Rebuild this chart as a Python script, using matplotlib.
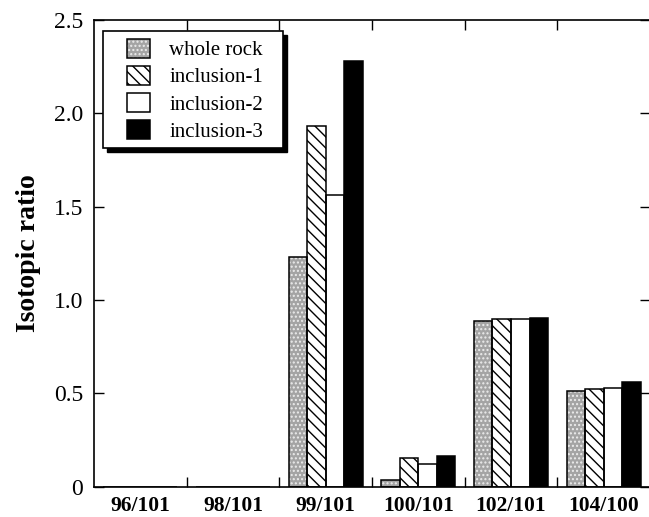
import matplotlib
matplotlib.use('Agg')
import matplotlib.pyplot as plt
from matplotlib.patches import Rectangle
import numpy as np

# Данные
ratios = ['96/101', '98/101', '99/101', '100/101', '102/101', '104/100']
whole_rock = [0, 0, 1.23, 0.035, 0.887, 0.513]
inclusion_1 = [0, 0, 1.93, 0.155, 0.900, 0.525]
inclusion_2 = [0, 0, 1.565, 0.12, 0.898, 0.530]
inclusion_3 = [0, 0, 2.28, 0.165, 0.905, 0.562]
series_names = ['whole rock', 'inclusion-1', 'inclusion-2', 'inclusion-3']
y_ticks = [0, 0.5, 1.0, 1.5, 2.0, 2.5]
y_tick_labels = ['0', '0.5', '1.0', '1.5', '2.0', '2.5']

plt.rcParams['font.family'] = ['Liberation Serif', 'DejaVu Serif']
plt.rcParams['hatch.linewidth'] = 1.0

W, H = 649, 517
fig = plt.figure(figsize=(W / 100, H / 100), dpi=100)
left, right, top, bottom = 94, 650, 20, 486.7
ax = fig.add_axes([left / W, (H - bottom) / H, (right - left) / W, (bottom - top) / H])

# стиль каждой серии: заливка, штриховка, цвет штриховки
styles = [
    ('#a4a4a4', '....', '#ececec'),
    ('white', '\\\\\\', 'black'),
    ('white', None, 'black'),
    ('black', None, 'black'),
]

x = np.arange(len(ratios))
w = 0.2
handles = []
for i, vals in enumerate([whole_rock, inclusion_1, inclusion_2, inclusion_3]):
    face, hatch, hcol = styles[i]
    pos = x + (i - 1.5) * w
    b1 = ax.bar(pos, vals, w, color=face, edgecolor=hcol, hatch=hatch, linewidth=0, zorder=2)
    b2 = ax.bar(pos, vals, w, fill=False, edgecolor='black', linewidth=1.1, zorder=2.1)
    handles.append((b1[0], b2[0]))

ax.set_xlim(-0.5, len(ratios) - 0.5)
ax.set_ylim(0, 2.5)

ax.set_yticks(y_ticks)
ax.set_yticklabels(y_tick_labels)
ax.set_xticks(x[:-1] + 0.5)
ax.set_xticklabels([])
ax.set_xticks(x, minor=True)
ax.set_xticklabels(ratios, minor=True, fontweight='bold', fontsize=15.5)

ax.tick_params(axis='y', which='major', direction='in', length=7.5, width=1.0,
               labelsize=17, pad=8, right=True)
ax.tick_params(axis='x', which='major', direction='in', length=7.5, width=1.0, top=True)
ax.tick_params(axis='x', which='minor', length=0, pad=7)

for s in ax.spines.values():
    s.set_linewidth(1.2)

ax.set_ylabel('Isotopic ratio', fontsize=20, fontweight='bold', labelpad=9)

# рамка легенды с тенью
aw, ah = right - left, bottom - top
bx0, by0 = (103 - left) / aw, (bottom - 148) / ah
bw, bh = (283 - 103) / aw, (148 - 31) / ah
ax.add_patch(Rectangle((bx0 + 4 / aw, by0 - 4 / ah), bw, bh, transform=ax.transAxes,
                       facecolor='black', edgecolor='black', zorder=4))
ax.add_patch(Rectangle((bx0, by0), bw, bh, transform=ax.transAxes,
                       facecolor='white', edgecolor='black', linewidth=1.2, zorder=4.1))

ax.legend(handles, series_names, loc='upper left',
          bbox_to_anchor=((126.7 - left) / aw, (bottom - 38.9) / ah),
          frameon=False, borderpad=0, borderaxespad=0, fontsize=15,
          handlelength=1.1, handleheight=1.0, handletextpad=0.95, labelspacing=0.27)

plt.savefig('out.png', dpi=100)
